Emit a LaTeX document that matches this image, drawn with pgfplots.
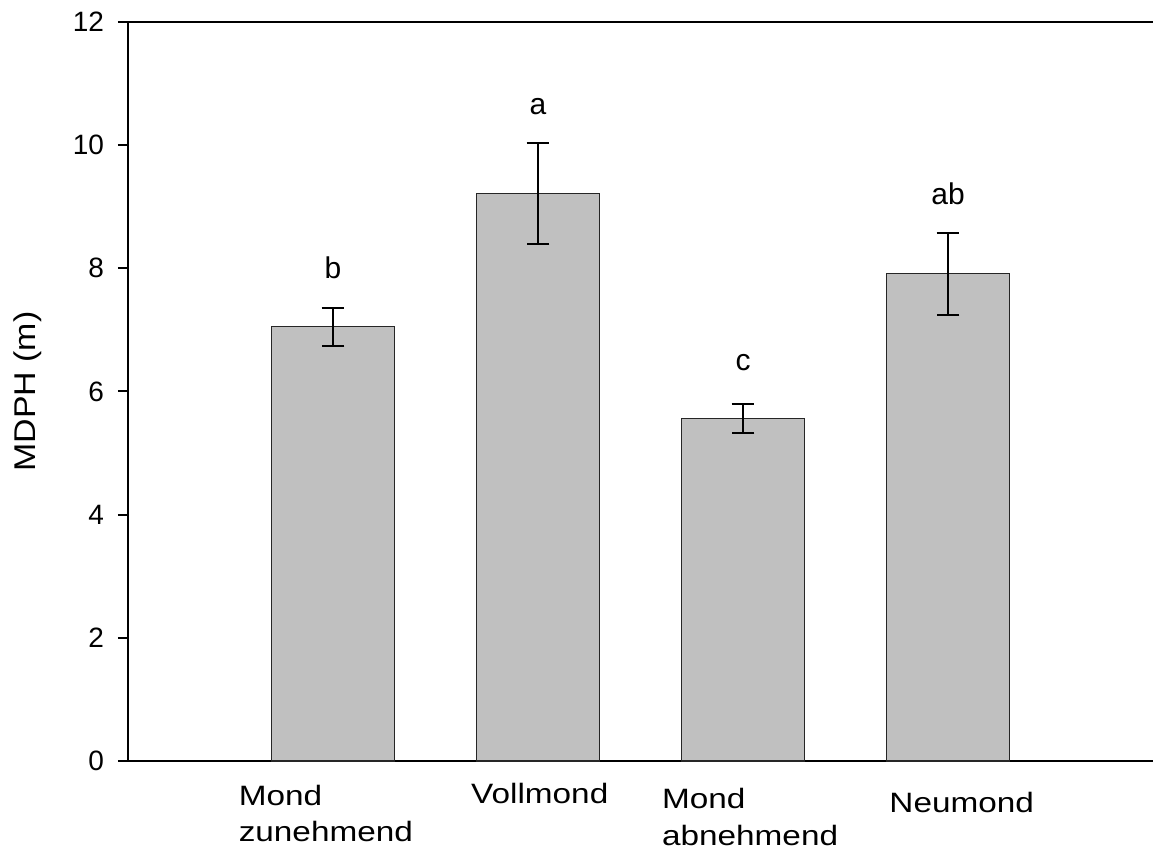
\documentclass[border=0pt]{standalone}
\usepackage{pgfplots}
\usepackage{pgfplotstable}
\pgfplotsset{compat=1.18}
\usepackage{fontspec}
\setmainfont{Liberation Sans}

% mean MDPH per moon phase with standard error
\pgfplotstableread{
x  y     err
0  7.05  0.31
1  9.22  0.82
2  5.56  0.23
3  7.91  0.66
}\mdph

\begin{document}
\begin{tikzpicture}
\begin{axis}[
  name=ax,
  scale only axis,
  width=512.5pt, height=369.5pt,
  xmin=-1, xmax=4,
  ymin=0, ymax=12,
  axis x line=box,
  axis y line=left,
  y axis line style={-},
  axis line style={line width=1pt, black},
  xtick=\empty,
  ytick={0,2,...,12},
  tick align=outside,
  major tick length=5pt,
  tick style={line width=1pt, black},
  /pgf/number format/assume math mode=true,
  ticklabel style={font=\fontsize{14}{17}\selectfont},
  yticklabel style={xshift=-3.5pt},
  ylabel={MDPH (m)},
  ylabel style={at={(axis description cs:-0.098,0.5)}, anchor=center,
    font=\fontsize{15}{18}\selectfont, xscale=1.13},
  clip=false,
]
\addplot[ybar, bar width=0.6, fill={rgb,255:red,192;green,192;blue,192},
  draw=black!85, line width=0.6pt,
  error bars/.cd, y dir=both, y explicit,
  error bar style={line width=1pt, black},
  error mark options={rotate=90, line width=1pt, black, mark size=5.7pt}]
  table[x=x, y=y, y error=err] {\mdph};

% significance letters
\begin{scope}[every node/.style={anchor=base, font=\fontsize{15}{18}\selectfont}]
\node at (axis cs:0,7.83) {b};
\node at (axis cs:1,10.50) {a};
\node at (axis cs:2,6.34) {c};
\node at (axis cs:3,9.04) {ab};
\end{scope}

% category labels
\begin{scope}[every node/.style={anchor=base west, inner sep=0pt, xscale=1.19,
    font=\fontsize{14}{17}\selectfont}]
\node at (axis cs:-0.462,-0.715) {Mond};
\node at (axis cs:-0.462,-1.31) {zunehmend};
\node at (axis cs:0.672,-0.698) {Vollmond};
\node at (axis cs:1.603,-0.779) {Mond};
\node at (axis cs:1.603,-1.364) {abnehmend};
\node at (axis cs:2.712,-0.84) {Neumond};
\end{scope}
\end{axis}
\pgfresetboundingbox
\path[use as bounding box] ([xshift=-64pt,yshift=-44.5pt]ax.south west)
  rectangle ([yshift=11pt]ax.north east);
\end{tikzpicture}
\end{document}
